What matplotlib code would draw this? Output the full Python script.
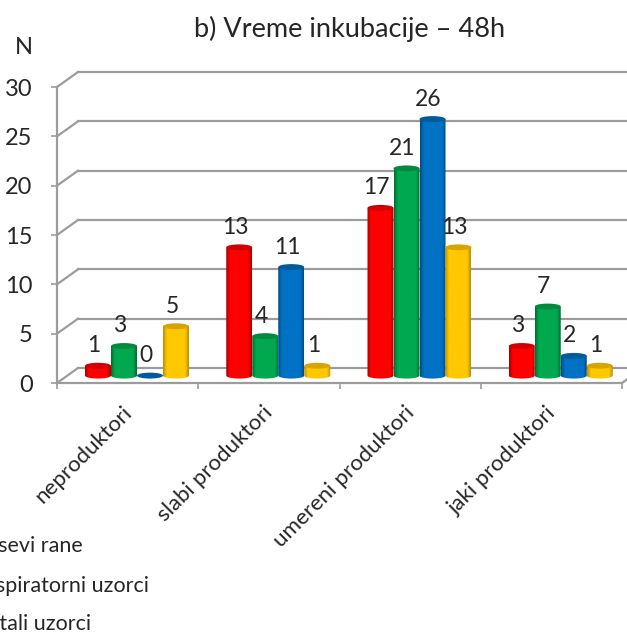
import matplotlib
matplotlib.use("Agg")
import matplotlib.pyplot as plt
import numpy as np
from matplotlib.colors import LinearSegmentedColormap
from matplotlib.patches import Ellipse, PathPatch
from matplotlib.path import Path
from matplotlib.transforms import ScaledTranslation

plt.rcParams['font.family'] = ['Lato', 'DejaVu Sans']

categories = ["neproduktori", "slabi produktori", "umereni produktori", "jaki produktori"]
series_names = ["Brisevi rane", "Respiratorni uzorci", "Genitali uzorci"]
red_values = [1, 13, 17, 3]
green_values = [3, 4, 21, 7]
blue_values = [0, 11, 26, 2]
yellow_values = [5, 1, 13, 1]
y_ticks = [0, 5, 10, 15, 20, 25, 30]

series = [
    (red_values, "#FF0000", "#A80000", "#D00000"),
    (green_values, "#00A84F", "#006E34", "#008A40"),
    (blue_values, "#0072C4", "#004C84", "#005A9C"),
    (yellow_values, "#FFC800", "#BC9000", "#D9A400"),
]

W, H = 627, 633
GRID = "#9C9C9C"
TEXT = "#262626"

fig = plt.figure(figsize=(W / 100, H / 100), dpi=100)
ax = fig.add_axes([57 / W, 1 - 383 / H, 565 / W, 296 / H])
ax.patch.set_visible(False)
for s in ax.spines.values():
    s.set_visible(False)

depth_x = 21 / 141.25
depth_y = 15 / 9.87

# walls
for t in y_ticks:
    ax.plot([depth_x, 4 + depth_x], [t + depth_y, t + depth_y], color=GRID, lw=1.6, clip_on=False, zorder=1)
    ax.plot([0, depth_x], [t, t + depth_y], color=GRID, lw=1.6, clip_on=False, zorder=1)
ax.plot([0, 0], [0, 30], color=GRID, lw=1.6, clip_on=False, zorder=1)
ax.plot([0, 4], [0, 0], color=GRID, lw=1.6, clip_on=False, zorder=1)
ax.plot([4, 4 + depth_x], [0, depth_y], color=GRID, lw=1.6, clip_on=False, zorder=1)

bar_w = 26 / 141.25
group_start = 28 / 141.25
base = 0.75
cap = 0.3


def draw_bar(x0, value, color, dark, top):
    x1 = x0 + bar_w
    cx = (x0 + x1) / 2
    if value > 0:
        theta = np.linspace(np.pi, 2 * np.pi, 30)
        xs = cx + bar_w / 2 * np.cos(theta)
        ys = base + cap * np.sin(theta)
        verts = list(zip(xs, ys)) + [(x1, base + value), (x0, base + value), (x0, base)]
        clip = PathPatch(Path(verts), transform=ax.transData, facecolor="none", edgecolor="none")
        ax.add_patch(clip)
        cmap = LinearSegmentedColormap.from_list("c", [color, color, dark])
        grad = np.abs(np.linspace(-1, 1, 40)) ** 2
        im = ax.imshow(grad[None, :], cmap=cmap, extent=[x0, x1, base - cap, base + value],
                       aspect="auto", vmin=0, vmax=1, zorder=3, interpolation="bilinear")
        im.set_clip_path(clip)
    ax.add_patch(Ellipse((cx, base + value), bar_w, 2 * cap, facecolor=top, edgecolor="none", zorder=4))


for g in range(len(categories)):
    for k, (vals, color, dark, top) in enumerate(series):
        x0 = g + group_start + k * bar_w
        draw_bar(x0, vals[g], color, dark, top)
        ax.annotate(str(vals[g]), (x0 + bar_w / 2, base + vals[g]), xytext=(-4, 20),
                    textcoords="offset pixels", ha="center", va="center",
                    fontsize=16.5, color=TEXT, zorder=5, annotation_clip=False)

ax.set_xlim(0, 4)
ax.set_ylim(0, 30)
ax.set_yticks(y_ticks)
ax.set_xticks([0, 1, 2, 3, 4])
ax.set_xticklabels([])
ax.set_xticks([0.5, 1.5, 2.5, 3.5], labels=categories, minor=True)
ax.tick_params(axis="x", which="major", length=4, width=1.2, color=GRID)
ax.tick_params(axis="x", which="minor", length=0, pad=14, labelsize=16, labelcolor=TEXT)
ax.tick_params(axis="y", length=4, width=1.2, color=GRID, pad=13.5, labelsize=17, labelcolor=TEXT)
for lab in ax.get_xticklabels(minor=True):
    lab.set_rotation(45)
    lab.set_ha("right")
    lab.set_rotation_mode("anchor")
    lab.set_transform(lab.get_transform() + ScaledTranslation(-6 / 100, 0, fig.dpi_scale_trans))

fig.text(350 / W, 1 - 29 / H, "b) Vreme inkubacije \u2013 48h", ha="center", va="center", fontsize=19.5, color=TEXT)
fig.text(24 / W, 1 - 48 / H, "N", ha="center", va="center", fontsize=17, color=TEXT)

# legend runs off the left edge in the original
legend_right = [83, 149, 91]
legend_y = [546, 586, 624]
for name, xr, yc in zip(series_names, legend_right, legend_y):
    fig.text(xr / W, 1 - yc / H, name, ha="right", va="center", fontsize=15.5, color=TEXT)

fig.savefig("out.png", dpi=100)
